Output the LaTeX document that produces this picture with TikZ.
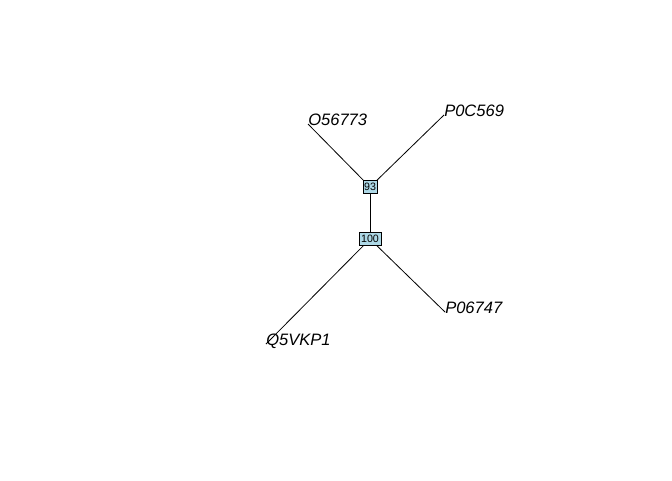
\documentclass[tikz,border=0pt]{standalone}
\usepackage{fontspec}
\setmainfont{Liberation Sans}
\begin{document}
\begin{tikzpicture}[x=0.75pt,y=-0.75pt,
  edge/.style={draw=black,line width=0.6pt},
  nodebox/.style={draw=black,fill={rgb,255:red,173;green,216;blue,230},line width=0.5pt,
    inner sep=0pt,minimum height=13*0.75pt,font=\fontsize{8pt}{9pt}\selectfont},
  tiplabel/.style={anchor=base west,inner sep=0pt,font=\fontsize{12.4pt}{14pt}\selectfont\itshape}]
\useasboundingbox (0,0) rectangle (672,480);
\coordinate (c93) at (370,187);
\coordinate (c100) at (370,239);
\coordinate (tO) at (308,124);
\coordinate (tP1) at (444,115);
\coordinate (tP2) at (445,312);
\coordinate (tQ) at (266,344);
\draw[edge] (c93) -- (tO);
\draw[edge] (c93) -- (tP1);
\draw[edge] (c93) -- (c100);
\draw[edge] (c100) -- (tP2);
\draw[edge] (c100) -- (tQ);
\node[nodebox,minimum width=14*0.75pt] (n93) at (c93) {93};
\node[nodebox,minimum width=22*0.75pt] (n100) at (c100) {100};
\node[tiplabel] (lO) at ([yshift=-0.9pt]tO) {O56773};
\node[tiplabel] (lP1) at ([yshift=-0.9pt]tP1) {P0C569};
\node[tiplabel] (lP2) at ([yshift=-0.9pt]tP2) {P06747};
\node[tiplabel] (lQ) at ([yshift=-0.9pt]tQ) {Q5VKP1};
\end{tikzpicture}
\end{document}
